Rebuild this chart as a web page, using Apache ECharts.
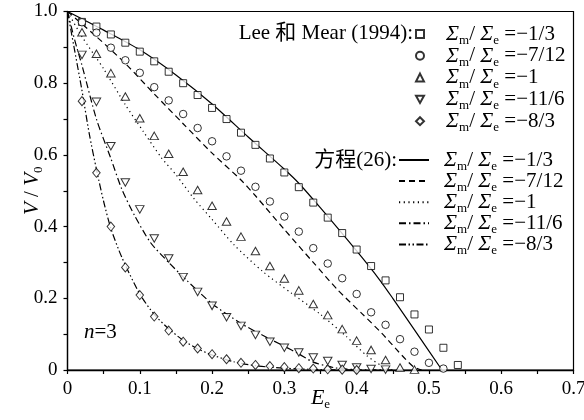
<!DOCTYPE html>
<html>
<head>
<meta charset="utf-8">
<script src="https://cdn.jsdelivr.net/npm/echarts@6/dist/echarts.min.js"></script>
<style>
  html, body { margin: 0; padding: 0; background: #fff; }
  .chart { width: 584px; height: 420px; }
</style>
</head>
<body>
<div class="chart"></div>
<script>
// Lee 和 Mear (1994) 数据点，横坐标 Ee
const markerX = [0.02, 0.04, 0.06, 0.08, 0.10, 0.12, 0.14, 0.16, 0.18, 0.20, 0.22, 0.24, 0.26, 0.28,
    0.30, 0.32, 0.34, 0.36, 0.38, 0.40, 0.42, 0.44, 0.46, 0.48, 0.50, 0.52, 0.54]
const leeM13 = [0.971, 0.958, 0.936, 0.913, 0.888, 0.861, 0.832, 0.800, 0.767, 0.731, 0.700, 0.662, 0.628, 0.590,
    0.551, 0.510, 0.467, 0.425, 0.382, 0.336, 0.290, 0.250, 0.203, 0.155, 0.113, 0.062, 0.014]
const leeM712 = [0.970, 0.941, 0.899, 0.864, 0.829, 0.789, 0.752, 0.714, 0.675, 0.638, 0.596, 0.556, 0.511, 0.470,
    0.428, 0.386, 0.340, 0.297, 0.256, 0.212, 0.161, 0.126, 0.086, 0.051, 0.020, 0.004]
const leeM1 = [0.942, 0.882, 0.828, 0.763, 0.702, 0.653, 0.603, 0.553, 0.502, 0.458, 0.414, 0.372, 0.332, 0.290,
    0.255, 0.222, 0.184, 0.153, 0.114, 0.082, 0.056, 0.028, 0.007, 0.001]
const leeM116 = [0.879, 0.748, 0.624, 0.523, 0.448, 0.367, 0.311, 0.259, 0.218, 0.179, 0.147, 0.123, 0.098, 0.079,
    0.062, 0.049, 0.035, 0.025, 0.014, 0.007, 0.003, 0.001]
const leeM83 = [0.750, 0.550, 0.400, 0.286, 0.209, 0.149, 0.110, 0.079, 0.060, 0.044, 0.030, 0.020, 0.014, 0.011,
    0.008, 0.005, 0.004, 0.002, 0.001, 0.000]

// 方程(26) 曲线 [Ee, V/V0]
const eqM13 = [[0, 1], [0.05, 0.948], [0.1, 0.893], [0.15, 0.823], [0.2, 0.742], [0.25, 0.650], [0.3, 0.560],
    [0.32, 0.521], [0.35, 0.452], [0.4, 0.332], [0.432, 0.251], [0.45, 0.200], [0.48, 0.112], [0.518, 0]]
const eqM712 = [[0, 1], [0.04, 0.930], [0.08, 0.855], [0.12, 0.770], [0.16, 0.687], [0.2, 0.605], [0.24, 0.530],
    [0.26, 0.486], [0.3, 0.392], [0.34, 0.300], [0.374, 0.223], [0.407, 0.158], [0.435, 0.102], [0.458, 0.051],
    [0.478, 0.010], [0.49, 0]]
const eqM1 = [[0, 1], [0.02, 0.930], [0.05, 0.840], [0.08, 0.740], [0.105, 0.665], [0.13, 0.592], [0.15, 0.545],
    [0.175, 0.478], [0.2, 0.420], [0.23, 0.350], [0.27, 0.275], [0.31, 0.214], [0.35, 0.155], [0.386, 0.093],
    [0.414, 0.040], [0.44, 0.005], [0.45, 0]]
const eqM116 = [[0, 1], [0.01, 0.920], [0.02, 0.850], [0.04, 0.700], [0.06, 0.590], [0.075, 0.505], [0.093, 0.430],
    [0.115, 0.355], [0.14, 0.300], [0.165, 0.250], [0.2, 0.185], [0.24, 0.130], [0.27, 0.097], [0.3, 0.066],
    [0.32, 0.045], [0.34, 0.022], [0.37, 0.006], [0.4, 0.001], [0.45, 0]]
const eqM83 = [[0, 1], [0.01, 0.890], [0.02, 0.780], [0.03, 0.660], [0.04, 0.560], [0.05, 0.470], [0.06, 0.395],
    [0.075, 0.315], [0.1, 0.212], [0.12, 0.155], [0.14, 0.115], [0.16, 0.083], [0.18, 0.059], [0.2, 0.042],
    [0.23, 0.023], [0.26, 0.012], [0.3, 0.005], [0.35, 0.001], [0.4, 0]]

const ratioText = ['−1/3', '−7/12', '−1', '−11/6', '−8/3']
const xTicks = ['0', '0.1', '0.2', '0.3', '0.4', '0.5', '0.6', '0.7']
const yTicks = ['0', '0.2', '0.4', '0.6', '0.8', '1.0']

;(function () {
    const myChart = echarts.init(document.querySelector('.chart'), null, { renderer: 'canvas' })
    const serif = "'Liberation Serif', 'Times New Roman', serif"
    const cjk = "'Liberation Serif', 'Noto Sans CJK SC', serif"

    const leeNames = ['lee0', 'lee1', 'lee2', 'lee3', 'lee4']
    const eqNames = ['eq0', 'eq1', 'eq2', 'eq3', 'eq4']
    const leeY = [leeM13, leeM712, leeM1, leeM116, leeM83]
    const eqData = [eqM13, eqM712, eqM1, eqM116, eqM83]
    const symbols = ['rect', 'circle', 'triangle', 'path://M0,0 L10,0 L5,9 Z', 'diamond']
    const symbolSizes = [7, 7.5, [8.5, 7.5], [8.5, 7.5], [7.5, 9]]
    const dashTypes = ['solid', [6, 4], [1.2, 3.5], [7, 3, 1.5, 3], [7, 2.5, 1.5, 2.5, 1.5, 2.5]]

    // 图例文字：Σm/Σe = ...
    const rich = {
        g1: { width: 17, lineHeight: 20 },
        g2: { width: 10, lineHeight: 20 },
        S: { fontFamily: serif, fontStyle: 'italic', fontSize: 22, lineHeight: 20 },
        sub: { fontFamily: serif, fontSize: 13, lineHeight: 7, padding: [13, 0, 0, 0] },
        n: { fontFamily: serif, fontSize: 21, lineHeight: 20 }
    }
    const legendLabel = function (gap) {
        return function (name) {
            const k = Number(name.slice(-1))
            return '{' + gap + '|}{S|Σ}{sub|m}{n|/ }{S|Σ}{sub|e}{n| =' + ratioText[k] + '}'
        }
    }

    const series = []
    leeY.forEach(function (ys, k) {
        series.push({
            name: leeNames[k],
            type: 'scatter',
            symbol: symbols[k],
            symbolSize: symbolSizes[k],
            itemStyle: { color: '#fff', borderColor: '#000', borderWidth: 1 },
            z: 3,
            data: ys.map(function (v, i) { return [markerX[i], v] })
        })
    })
    eqData.forEach(function (pts, k) {
        series.push({
            name: eqNames[k],
            type: 'line',
            symbol: 'none',
            smooth: 0.25,
            color: '#000',
            lineStyle: { color: '#000', width: 1.2, type: dashTypes[k] },
            z: 2,
            data: pts
        })
    })

    const option = {
        animation: false,
        backgroundColor: '#fff',
        grid: {
            left: 67.5,
            right: 10.5,
            top: 11.5,
            bottom: 50,
            outerBoundsMode: 'none',
            containLabel: false,
            show: true,
            borderColor: '#000',
            borderWidth: 1.2
        },
        legend: [
            {
                orient: 'vertical',
                left: 415,
                top: 21,
                padding: 0,
                itemWidth: 8,
                itemHeight: 8,
                itemGap: -4.2,
                selectedMode: false,
                data: leeNames,
                formatter: legendLabel('g1'),
                textStyle: { color: '#000', fontFamily: serif, fontSize: 21, rich: rich }
            },
            {
                orient: 'vertical',
                left: 398,
                top: 147,
                padding: 0,
                itemWidth: 30,
                itemHeight: 10,
                itemGap: -4.9,
                selectedMode: false,
                data: eqNames,
                itemStyle: { color: 'rgba(0,0,0,0)', borderWidth: 0, opacity: 0 },
                formatter: legendLabel('g2'),
                textStyle: { color: '#000', fontFamily: serif, fontSize: 21, rich: rich }
            }
        ],
        xAxis: {
            type: 'value',
            min: 0,
            max: 0.7,
            interval: 0.1,
            name: '{i|E}{s|e}',
            nameLocation: 'middle',
            nameGap: 18,
            nameMoveOverlap: false,
            nameTextStyle: {
                rich: {
                    i: { fontFamily: serif, fontStyle: 'italic', fontSize: 22, lineHeight: 20, color: '#000' },
                    s: { fontFamily: serif, fontSize: 13, lineHeight: 7, padding: [13, 0, 0, 0], color: '#000' }
                }
            },
            axisLine: { lineStyle: { color: '#000', width: 1.3 } },
            axisTick: { inside: false, length: 4, lineStyle: { color: '#000', width: 1.2 } },
            minorTick: { show: true, splitNumber: 2, length: 4, lineStyle: { color: '#000', width: 1.2 } },
            splitLine: { show: false },
            axisLabel: {
                color: '#000',
                fontFamily: serif,
                fontSize: 19,
                margin: 10,
                formatter: function (v) { return xTicks[Math.round(v * 10)] }
            }
        },
        yAxis: {
            type: 'value',
            min: 0,
            max: 1,
            interval: 0.2,
            name: '{i|V} / {i|V}{s|0}',
            nameLocation: 'middle',
            nameRotate: 90,
            nameGap: 25,
            nameMoveOverlap: false,
            nameTextStyle: {
                fontFamily: serif,
                fontSize: 21,
                color: '#000',
                rich: {
                    i: { fontFamily: serif, fontStyle: 'italic', fontSize: 21, lineHeight: 20, color: '#000' },
                    s: { fontFamily: serif, fontSize: 13, lineHeight: 7, padding: [13, 0, 0, 0], color: '#000' }
                }
            },
            axisLine: { lineStyle: { color: '#000', width: 1.3 } },
            axisTick: { inside: false, length: 4, lineStyle: { color: '#000', width: 1.2 } },
            minorTick: { show: true, splitNumber: 2, length: 4, lineStyle: { color: '#000', width: 1.2 } },
            splitLine: { show: false },
            axisLabel: {
                color: '#000',
                fontFamily: serif,
                fontSize: 19,
                margin: 10,
                formatter: function (v) { return yTicks[Math.round(v * 5)] }
            }
        },
        graphic: [
            {
                type: 'text',
                x: 413,
                y: 33,
                style: {
                    text: 'Lee 和 Mear (1994):',
                    fill: '#000',
                    font: '21px ' + cjk,
                    align: 'right',
                    verticalAlign: 'middle'
                }
            },
            {
                type: 'text',
                x: 397,
                y: 160,
                style: {
                    text: '方程(26):',
                    fill: '#000',
                    font: '21px ' + cjk,
                    align: 'right',
                    verticalAlign: 'middle'
                }
            },
            {
                type: 'text',
                x: 84,
                y: 332,
                style: {
                    text: '{i|n}{n|=3}',
                    verticalAlign: 'middle',
                    rich: {
                        i: { fontFamily: serif, fontStyle: 'italic', fontSize: 21, fill: '#000' },
                        n: { fontFamily: serif, fontSize: 21, fill: '#000' }
                    }
                }
            }
        ],
        series: series
    }
    myChart.setOption(option)
})()
</script>
</body>
</html>
